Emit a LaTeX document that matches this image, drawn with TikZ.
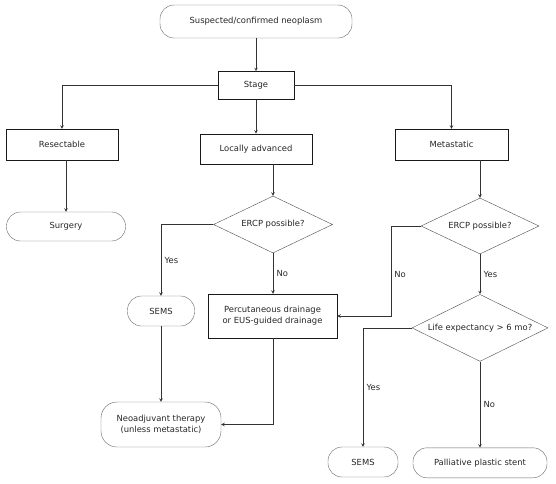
\documentclass[tikz,border=0pt]{standalone}
\usepackage{fontspec}
\setmainfont{DejaVu Sans}
\usepackage{tikz}
\usetikzlibrary{shapes,arrows,positioning}
\usetikzlibrary{calc}

\begin{document}
\begin{tikzpicture}[x=1pt,y=-1pt,>=stealth,
every node/.style={font=\fontsize{8.4}{11}\selectfont, text=black!85},
terminal/.style={
% The shape:
rectangle,rounded corners=14pt,
% The size:
minimum height=30pt,
% The border:
draw=black!60
},
process/.style={
% The shape:
rectangle,
% The size:
minimum height=30pt,
% The border:
draw=black!90
},
decision/.style={
% The shape:
diamond,aspect=2.1,inner sep=0pt,
% The border:
draw=black!70
},
link/.style={draw=black!80, line width=0.55pt}]

\useasboundingbox (0,0) rectangle (556,483);

\node (start) [terminal, minimum width=192pt, minimum height=33pt] at (256,21.5) {Suspected/confirmed neoplasm};
\node (stage) [process, minimum width=76pt, minimum height=28pt, below=33pt of start] {Stage};
\node (loc) [process, minimum width=112pt, below=34pt of stage] {Locally advanced};
\node (res) [process, minimum width=112pt, minimum height=31pt] at (62,144.5) {Resectable};
\node (met) [process, minimum width=113pt, minimum height=31pt] at (451.5,144.5) {Metastatic};
\node (surg) [terminal, minimum width=119pt, minimum height=29pt] at (66,226.5) {Surgery};
\node (ercpa) [decision, minimum width=119pt, minimum height=57pt] at (273,224.5) {ERCP possible?};
\node (sems) [terminal, minimum width=67pt] at (161,311) {SEMS};
\node (perc) [process, align=center, minimum width=129pt, minimum height=44pt] at (272.5,316) {Percutaneous drainage\\ or EUS-guided drainage};
\node (neo) [terminal, align=center, minimum width=120pt, minimum height=45pt, rounded corners=16pt] at (161,424.5) {Neoadjuvant therapy\\ (unless metastatic)};
\node (ercpb) [decision, minimum width=118pt, minimum height=56pt] at (480,226) {ERCP possible?};
\node (life) [decision, minimum width=136pt, minimum height=67pt, below=40pt of ercpb] {Life expectancy > 6 mo?};
\node (semsb) [terminal, minimum width=70pt] at (363,462) {SEMS};
\node (pall) [terminal, minimum width=134pt, below=86pt of life] {Palliative plastic stent};

\path (start) edge[->, link] (stage);
\draw [->, link] (stage) -| (res);
\draw [->, link] (stage) -| (met);
\path (stage) edge[->, link] (loc);
\draw [->, link] (surg.north |- res.south) -- (surg);

\draw [->, link] (ercpa.north |- loc.south) -- (ercpa);
\draw [->, link] (ercpa) -| node[pos=0.75, right] {Yes} (sems);
\path (ercpa) edge[->, link] node[right] {No} (perc.north -| ercpa);
\path (sems) edge[->, link] (neo);
\draw [->, link] (perc.south -| ercpa) |- (neo);

\draw [->, link] (ercpb.north |- met.south) -- (ercpb);
\draw [->, link] (ercpb.west) -- ++(-30,0) |- node[pos=0.27, right] {No} (perc);
\path (ercpb) edge[->, link] node[right] {Yes} (life);
\draw [->, link] (life) -| node[pos=0.75, right] {Yes} (semsb);
\path (life) edge[->, link] node[right] {No} (pall);
\end{tikzpicture}
\end{document}
